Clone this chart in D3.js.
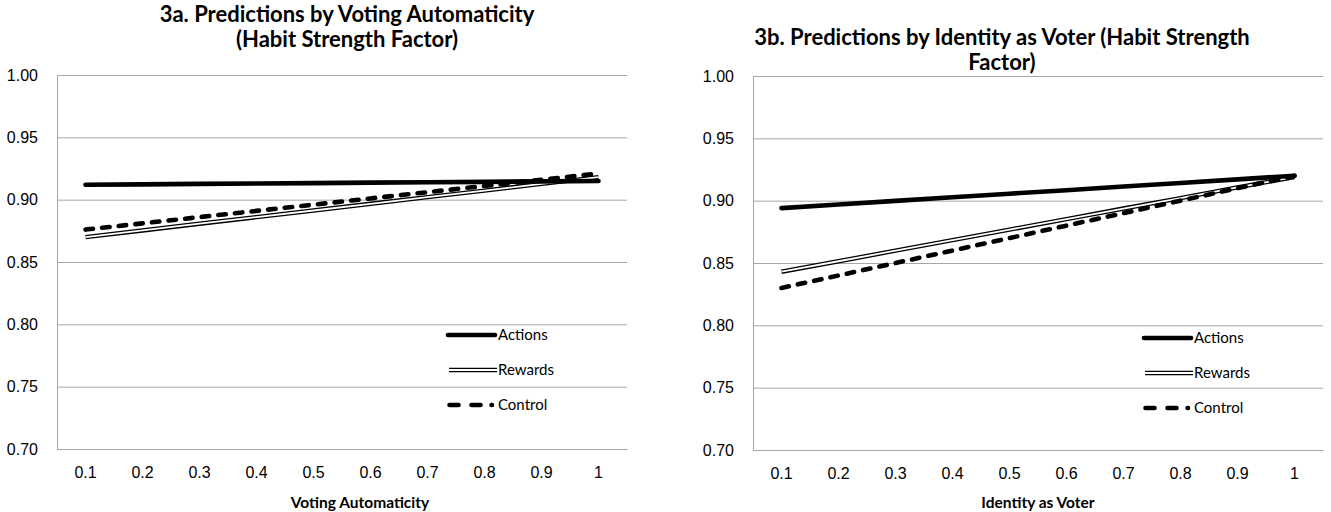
<!DOCTYPE html>
<html>
<head>
<meta charset="utf-8">
<script src="https://cdn.jsdelivr.net/npm/d3@7"></script>
<style>
  body { margin: 0; background: #fff; }
  svg { display: block; font-family: Lato, "Open Sans", sans-serif; }
</style>
</head>
<body>
<div id="vis"></div>
<script>

// x categories shared by both panels
var levels = ["0.1", "0.2", "0.3", "0.4", "0.5", "0.6", "0.7", "0.8", "0.9", "1"];
var yTicks = [0.70, 0.75, 0.80, 0.85, 0.90, 0.95, 1.00];
var seriesNames = ["Actions", "Rewards", "Control"];

// 3a. voting automaticity
var actionsA = [0.9120, 0.9123, 0.9127, 0.9130, 0.9133, 0.9137, 0.9140, 0.9143, 0.9147, 0.9150];
var rewardsA = [0.8700, 0.8753, 0.8807, 0.8860, 0.8913, 0.8967, 0.9020, 0.9073, 0.9127, 0.9180];
var controlA = [0.8760, 0.8810, 0.8860, 0.8910, 0.8960, 0.9010, 0.9060, 0.9110, 0.9160, 0.9210];

// 3b. identity as voter
var actionsB = [0.8940, 0.8969, 0.8998, 0.9027, 0.9056, 0.9084, 0.9113, 0.9142, 0.9171, 0.9200];
var rewardsB = [0.8430, 0.8514, 0.8599, 0.8683, 0.8768, 0.8852, 0.8937, 0.9021, 0.9106, 0.9190];
var controlB = [0.8300, 0.8400, 0.8500, 0.8600, 0.8700, 0.8800, 0.8900, 0.9000, 0.9100, 0.9200];

var width = 1331, height = 512;

var svg = d3.select("#vis").append("svg")
	.attr("width", width)
	.attr("height", height);

function drawPanel(p) {
	var x = d3.scaleBand().domain(levels).range([p.left, p.right]);
	var y = d3.scaleLinear().domain([0.70, 1.00]).range([p.bottom, p.top]);
	var g = svg.append("g");

	// gridlines
	g.append("g")
		.attr("transform", "translate(" + p.left + ",0)")
		.call(d3.axisLeft(y).tickValues(yTicks).tickSize(-(p.right - p.left)).tickFormat(d3.format(".2f")).tickPadding(19))
		.call(a => a.select(".domain").remove())
		.call(a => a.selectAll("line").attr("stroke", "#a6a6a6"))
		.call(a => a.selectAll("text").attr("font-size", 16).attr("fill", "#000").attr("font-family", null));

	// axis lines
	g.append("line").attr("x1", p.left + 0.5).attr("x2", p.left + 0.5)
		.attr("y1", p.top).attr("y2", p.bottom).attr("stroke", "#a6a6a6");

	g.append("g")
		.attr("transform", "translate(0," + p.bottom + ")")
		.call(d3.axisBottom(x).tickSize(0).tickPadding(18))
		.call(a => a.select(".domain").attr("stroke", "#a6a6a6"))
		.call(a => a.selectAll("text").attr("font-size", 16).attr("fill", "#000").attr("font-family", null));

	var line = d3.line()
		.x((d, i) => x(levels[i]) + x.bandwidth() / 2)
		.y(d => y(d));

	// rewards: double line
	g.append("path").attr("d", line(p.rewards)).attr("fill", "none")
		.attr("stroke", "#000").attr("stroke-width", 4.4);
	g.append("path").attr("d", line(p.rewards)).attr("fill", "none")
		.attr("stroke", "#fff").attr("stroke-width", 1.8);

	// control: dashed
	g.append("path").attr("d", line(p.control)).attr("fill", "none")
		.attr("stroke", "#000").attr("stroke-width", 4.6)
		.attr("stroke-dasharray", "7.5 9.2").attr("stroke-linecap", "round");

	// actions: thick solid
	g.append("path").attr("d", line(p.actions)).attr("fill", "none")
		.attr("stroke", "#000").attr("stroke-width", 4.6)
		.attr("stroke-linecap", "round").attr("stroke-linejoin", "round");

	// legend
	var lx = p.right - 180, ly = p.top + p.legendTop;
	var leg = g.append("g").attr("transform", "translate(" + lx + "," + ly + ")");
	seriesNames.forEach(function (name, i) {
		var yy = i * 35;
		if (name == "Actions") {
			leg.append("line").attr("x1", 1).attr("x2", 48).attr("y1", yy).attr("y2", yy)
				.attr("stroke", "#000").attr("stroke-width", 4.6).attr("stroke-linecap", "round");
		} else if (name == "Rewards") {
			leg.append("line").attr("x1", 2).attr("x2", 50).attr("y1", yy).attr("y2", yy)
				.attr("stroke", "#000").attr("stroke-width", 4.4);
			leg.append("line").attr("x1", 2).attr("x2", 50).attr("y1", yy).attr("y2", yy)
				.attr("stroke", "#fff").attr("stroke-width", 1.8);
		} else {
			leg.append("line").attr("x1", 2.5).attr("x2", 47).attr("y1", yy).attr("y2", yy)
				.attr("stroke", "#000").attr("stroke-width", 4.6).attr("stroke-linecap", "round")
				.attr("stroke-dasharray", "9 13 9 11 0.5 100");
		}
		leg.append("text").attr("x", 51).attr("y", yy).attr("dy", "0.36em")
			.attr("font-size", 15).text(name);
	});

	// titles
	var t = g.append("text").attr("text-anchor", "middle")
		.attr("font-weight", "bold").attr("font-size", 22);
	p.title.forEach(function (s, i) {
		t.append("tspan").attr("x", p.titleX).attr("y", p.titleY + i * p.titleGap).text(s);
	});

	g.append("text").attr("text-anchor", "middle").attr("font-weight", "bold")
		.attr("font-size", 15.5).attr("x", p.axisTitleX).attr("y", 508)
		.text(p.xTitle);
}

drawPanel({
	left: 57, right: 627, top: 75, bottom: 449,
	actions: actionsA, rewards: rewardsA, control: controlA,
	legendTop: 260,
	title: ["3a. Predictions by Voting Automaticity", "(Habit Strength Factor)"],
	titleX: 347, titleY: 22, titleGap: 25,
	xTitle: "Voting Automaticity", axisTitleX: 360
});

drawPanel({
	left: 753, right: 1323, top: 76, bottom: 450,
	actions: actionsB, rewards: rewardsB, control: controlB,
	legendTop: 262,
	title: ["3b. Predictions by Identity as Voter (Habit Strength", "Factor)"],
	titleX: 1002, titleY: 45, titleGap: 25,
	xTitle: "Identity as Voter", axisTitleX: 1038
});

</script>
</body>
</html>
